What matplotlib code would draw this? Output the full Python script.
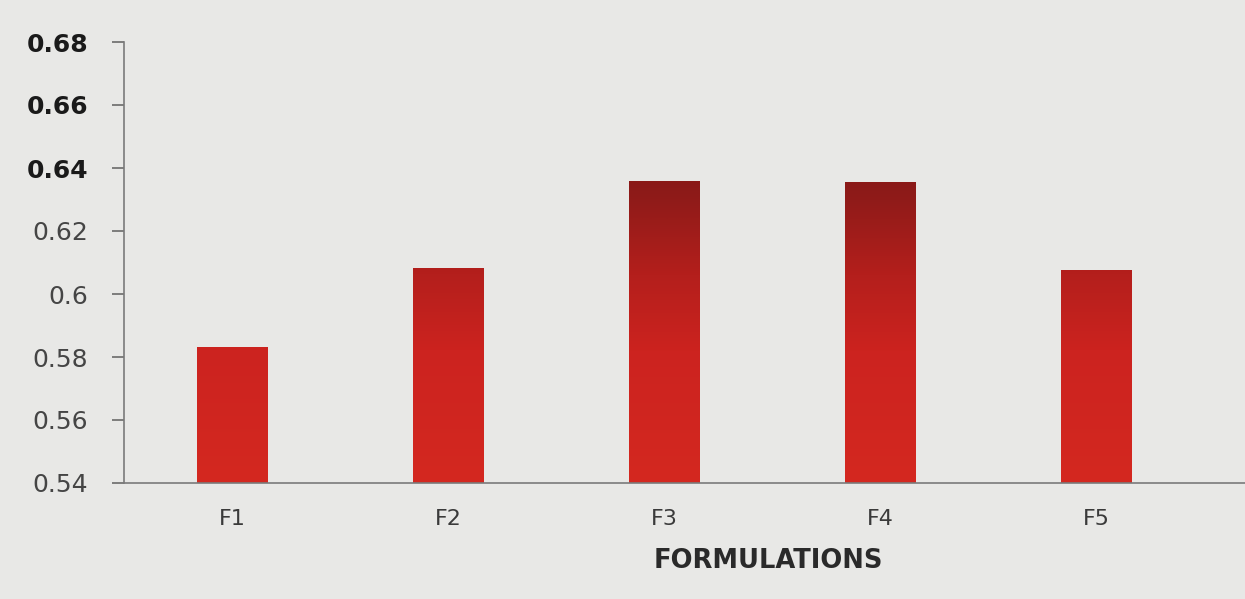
import numpy as np
import matplotlib
matplotlib.use("Agg")
import matplotlib.pyplot as plt
from matplotlib.colors import LinearSegmentedColormap

categories = ["F1", "F2", "F3", "F4", "F5"]
values = [0.5832, 0.6083, 0.6358, 0.6355, 0.6077]
y_ticks = [0.54, 0.56, 0.58, 0.6, 0.62, 0.64, 0.66, 0.68]
y_tick_labels = ["0.54", "0.56", "0.58", "0.6", "0.62", "0.64", "0.66", "0.68"]
x_label = "FORMULATIONS"

bg = "#e8e8e6"
fig = plt.figure(figsize=(12.45, 5.99), dpi=100, facecolor=bg)
ax = fig.add_axes([124 / 1245, 1 - 483 / 599, 1 - 124 / 1245, (483 - 42) / 599])
ax.set_facecolor(bg)

ymin, ymax = 0.54, 0.68
width = 0.325
x = np.arange(len(categories))
bars = ax.bar(x, [v - ymin for v in values], bottom=ymin, width=width,
              color="none", edgecolor="none", zorder=2)

# vertical red gradient, darker towards the top of the value range
cmap = LinearSegmentedColormap.from_list(
    "redgrad", [(0.0, "#d42820"), (0.35, "#cc231f"), (0.55, "#b41f1c"),
                (0.75, "#901b19"), (1.0, "#701313")])
grad = np.linspace(0, 1, 256).reshape(-1, 1)
for b in bars:
    im = ax.imshow(grad, cmap=cmap, origin="lower", aspect="auto",
                   extent=[b.get_x(), b.get_x() + b.get_width(), ymin, 0.66],
                   zorder=2)
    im.set_clip_path(b)

ax.set_xlim(-0.5, -0.5 + 1121 / 216)
ax.set_ylim(ymin, ymax)
ax.set_yticks(y_ticks)
ax.set_yticklabels(y_tick_labels)
ax.set_xticks(x)
ax.set_xticklabels(categories)

for s in ["top", "right"]:
    ax.spines[s].set_visible(False)
ax.spines["left"].set_color("#7a7a7a")
ax.spines["bottom"].set_color("#7a7a7a")
ax.spines["left"].set_linewidth(1.2)
ax.spines["bottom"].set_linewidth(1.2)

ax.tick_params(axis="y", direction="out", length=9, width=1.2, color="#6a6a6a",
               pad=17, labelsize=18, labelcolor="#454545")
ax.tick_params(axis="x", length=0, pad=19, labelsize=16, labelcolor="#3a3a3a")
for lab in ax.get_yticklabels():
    lab.set_fontfamily("DejaVu Sans")
    if lab.get_text() in ("0.64", "0.66", "0.68"):
        lab.set_fontweight("bold")
        lab.set_color("#1a1a1a")
for lab in ax.get_xticklabels():
    lab.set_fontfamily("DejaVu Sans")

ax.set_xlabel(x_label, fontsize=18.5, fontweight="bold", color="#2a2a2a",
              fontfamily="DejaVu Sans", va="center")
ax.xaxis.set_label_coords((768 - 124) / 1121, -0.177)

fig.savefig("out.png", dpi=100, facecolor=bg)
